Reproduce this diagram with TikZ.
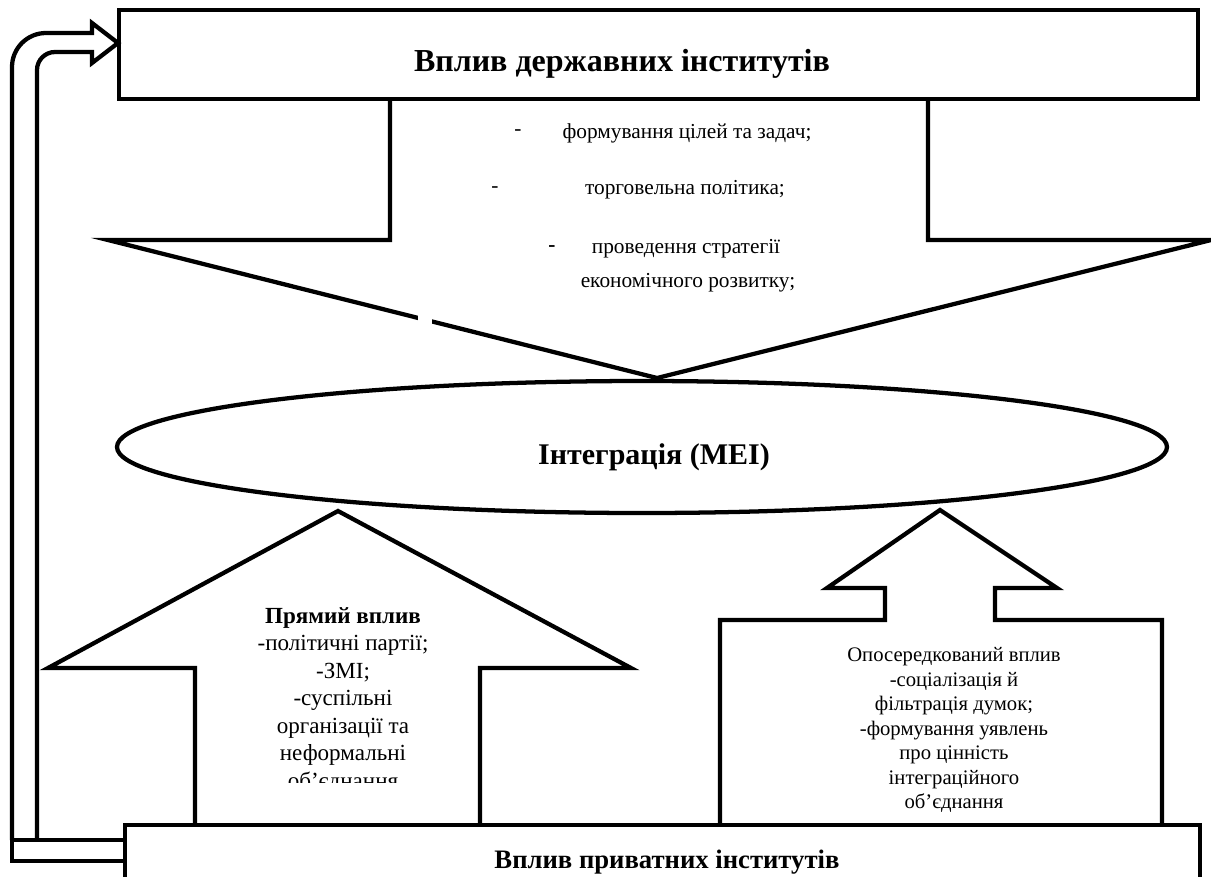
\documentclass[tikz,border=0pt]{standalone}
\usepackage{fontspec}
\setmainfont{Liberation Serif}
\usepackage{tikz}

\begin{document}
\begin{tikzpicture}[x=0.75pt,y=0.75pt,yscale=-1,xscale=1,
    blk/.style={line width=3.2pt, line join=miter},
    itemtext/.style={inner sep=0.75pt, font=\fontsize{16}{18}\selectfont},
    boxtext/.style={inner sep=0.75pt, align=center}]
    %set diagram to the full page
    \path[use as bounding box] (0,0) rectangle (1211,876);

    %Shape: Rectangle, top box
    \draw [blk] (119,10) rectangle (1198,99);
    %Shape: Down Arrow
    \draw [blk] (390,99) -- (390,240) -- (108,240) -- (657,378) -- (1211,240) -- (928,240) -- (928,99);
    %break in the left edge of the arrow head
    \fill [white] (418,308) rectangle (432,332);

    %Shape: Ellipse
    \draw [blk] (642,447) ellipse (525 and 66);

    %Shape: Up Arrow (left)
    \draw [blk] (195,825) -- (195,668) -- (48,668) -- (338,511) -- (631,668) -- (480,668) -- (480,825);
    %Shape: Up Arrow Callout (right)
    \draw [blk] (720,825) -- (720,620) -- (885,620) -- (885,588) -- (827,588) -- (940,510) -- (1057,588) -- (995,588) -- (995,620) -- (1162,620) -- (1162,825);

    %Shape: Rectangle, bottom box
    \draw [blk] (125,825) rectangle (1200,900);

    %Shape: Bent Arrow back to the top box
    \draw [blk] (12,840) rectangle (125,861);
    \draw [blk] (37,840) -- (37,70) arc (180:270:18) -- (92,52) -- (92,63) -- (118,43) -- (92,23) -- (92,33) -- (46,33) arc (270:180:34) -- (12,840);

    % Text Node
    \draw (622,64) node (govtitle) [inner sep=0.75pt, font=\fontsize{24}{28}\selectfont\bfseries] {Вплив державних інститутів};
    % Text Node
    \draw (518,133) node (dasha) [itemtext] {-};
    \draw (687,133) node (goals) [itemtext] {формування цілей та задач;};
    % Text Node
    \draw (495,190) node (dashb) [itemtext] {-};
    \draw (685,190) node (trade) [itemtext] {торговельна політика;};
    % Text Node
    \draw (552,249) node (dashc) [itemtext, font=\fontsize{16}{18}\selectfont\bfseries] {-};
    \draw (686,249) node (strat) [itemtext] {проведення стратегії};
    % Text Node
    \draw (688,283) node (econ) [itemtext] {економічного розвитку;};

    % Text Node
    \draw (654,457) node (integr) [inner sep=0.75pt, font=\fontsize{22.5}{26}\selectfont\bfseries] {Інтеграція (МЕІ)};

    % Text Node
    \begin{scope}
      \clip (195,590) rectangle (480,782);
      \draw (343,700) node (direct) [boxtext, font=\fontsize{17.3}{20.6}\selectfont] {\textbf{Прямий вплив}\\-політичні партії;\\-ЗМІ;\\-суспільні\\організації та\\неформальні\\об’єднання};
    \end{scope}
    % Text Node
    \draw (954,730) node (indirect) [boxtext, font=\fontsize{15.5}{18.4}\selectfont] {Опосередкований вплив\\-соціалізація й\\фільтрація думок;\\-формування уявлень\\про цінність\\інтеграційного\\об’єднання};

    % Text Node
    \draw (667,862) node (privtitle) [inner sep=0.75pt, font=\fontsize{20}{24}\selectfont\bfseries] {Вплив приватних інститутів};
\end{tikzpicture}
\end{document}
